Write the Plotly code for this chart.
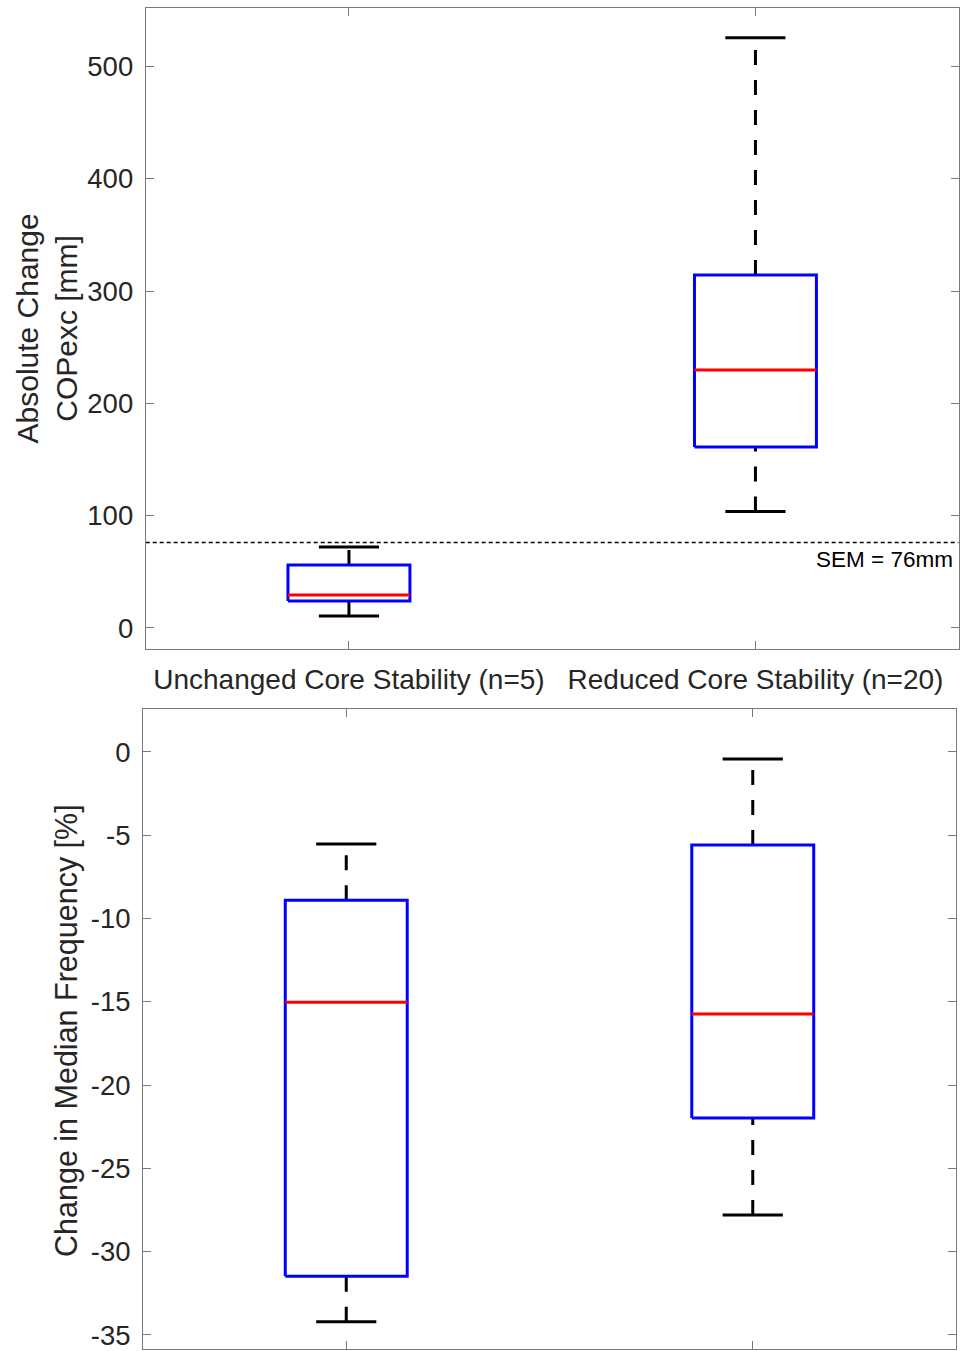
import plotly.graph_objects as go

# ---- data ----
groups = ["Unchanged Core Stability (n=5)", "Reduced Core Stability (n=20)"]
positions = [1, 2]

# top panel: Absolute Change COPexc [mm]
cop_lower = [10.7, 103.6]
cop_q1 = [24.0, 161.2]
cop_median = [29.4, 229.7]
cop_q3 = [56.1, 314.3]
cop_upper = [72.1, 525.6]
sem_value = 76
sem_label = "SEM = 76mm"
cop_ticks = [0, 100, 200, 300, 400, 500]

# bottom panel: Change in Median Frequency [%]
mf_lower = [-34.2, -27.8]
mf_q1 = [-31.47, -21.97]
mf_median = [-15.03, -15.73]
mf_q3 = [-8.9, -5.58]
mf_upper = [-5.52, -0.42]
mf_ticks = [-35, -30, -25, -20, -15, -10, -5, 0]
mf_ticklabels = [str(t) for t in mf_ticks]

# ---- style ----
FONT = "Liberation Sans, Arial, Helvetica, sans-serif"
TXT = "#262626"
AXC = "#7a7a7a"
BOX_HW = 0.15
CAP_HW = 0.074
LW = 3

fig = go.Figure()


def add_boxes(xa, ya, lower, q1, med, q3, upper):
    for c, lo, a, m, b, hi in zip(positions, lower, q1, med, q3, upper):
        # whiskers (dashed), drawn from lower value to higher value
        fig.add_trace(go.Scatter(x=[c, c], y=[b, hi], mode="lines", xaxis=xa, yaxis=ya,
                                 line=dict(color="black", width=LW, dash="15px,15px"),
                                 hoverinfo="skip", showlegend=False))
        fig.add_trace(go.Scatter(x=[c, c], y=[lo, a], mode="lines", xaxis=xa, yaxis=ya,
                                 line=dict(color="black", width=LW, dash="15px,15px"),
                                 hoverinfo="skip", showlegend=False))
        # caps
        for v in (lo, hi):
            fig.add_trace(go.Scatter(x=[c - CAP_HW, c + CAP_HW], y=[v, v], mode="lines",
                                     xaxis=xa, yaxis=ya,
                                     line=dict(color="black", width=LW),
                                     hoverinfo="skip", showlegend=False))
        # box
        fig.add_trace(go.Scatter(x=[c - BOX_HW, c + BOX_HW, c + BOX_HW, c - BOX_HW, c - BOX_HW],
                                 y=[a, a, b, b, a], mode="lines", xaxis=xa, yaxis=ya,
                                 line=dict(color="#0000ff", width=LW),
                                 hoverinfo="skip", showlegend=False))
        # median
        fig.add_trace(go.Scatter(x=[c - BOX_HW, c + BOX_HW], y=[m, m], mode="lines",
                                 xaxis=xa, yaxis=ya,
                                 line=dict(color="#ff0000", width=LW),
                                 hoverinfo="skip", showlegend=False))


add_boxes("x", "y", cop_lower, cop_q1, cop_median, cop_q3, cop_upper)
add_boxes("x2", "y2", mf_lower, mf_q1, mf_median, mf_q3, mf_upper)

# SEM reference line
fig.add_trace(go.Scatter(x=[0.5, 2.5], y=[sem_value, sem_value], mode="lines",
                         xaxis="x", yaxis="y",
                         line=dict(color="black", width=1.5, dash="4px,3px"),
                         hoverinfo="skip", showlegend=False))

W, H = 960, 1351
axis_common = dict(showline=True, linecolor=AXC, linewidth=1, mirror="allticks",
                   ticks="inside", ticklen=8, tickcolor=AXC, tickwidth=1,
                   showgrid=False, zeroline=False)
yfont = dict(family=FONT, size=27.5, color=TXT)
xfont = dict(family=FONT, size=28, color=TXT)

fig.update_layout(
    width=W, height=H, autosize=False,
    margin=dict(l=0, r=0, t=0, b=0),
    paper_bgcolor="white", plot_bgcolor="white",
    showlegend=False,
    font=dict(family=FONT, color=TXT),
    xaxis=dict(domain=[145.7 / W, 958.7 / W], range=[0.5, 2.5],
               tickvals=positions, ticktext=groups, anchor="y",
               tickfont=xfont, ticklabelstandoff=5, **axis_common),
    yaxis=dict(domain=[1 - 649.3 / H, 1 - 8.3 / H], range=[-19.0, 551.8],
               tickvals=cop_ticks, anchor="x", tickfont=yfont,
               ticklabelstandoff=6, **axis_common),
    xaxis2=dict(domain=[143.0 / W, 956.0 / W], range=[0.5, 2.5],
                tickvals=positions, showticklabels=False, anchor="y2",
                tickfont=xfont, **axis_common),
    yaxis2=dict(domain=[1 - 1349.3 / H, 1 - 709.0 / H], range=[-35.86, 2.58],
                tickvals=mf_ticks, ticktext=mf_ticklabels, anchor="x2",
                tickfont=yfont, ticklabelstandoff=6, **axis_common),
)

# y-axis titles
fig.add_annotation(xref="paper", yref="paper", x=46.5 / W, y=1 - 329 / H,
                   text="Absolute Change<br>COPexc [mm]", textangle=-90,
                   showarrow=False, xanchor="center", yanchor="middle",
                   font=dict(family=FONT, size=30, color=TXT))
fig.add_annotation(xref="paper", yref="paper", x=66 / W, y=1 - 1031 / H,
                   text="Change in Median Frequency [%]", textangle=-90,
                   showarrow=False, xanchor="center", yanchor="middle",
                   font=dict(family=FONT, size=30.5, color=TXT))

# SEM label
fig.add_annotation(xref="x", yref="y", x=2.5, y=sem_value, text=sem_label,
                   showarrow=False, xanchor="right", yanchor="top",
                   xshift=-4, yshift=-2,
                   font=dict(family=FONT, size=22.5, color="black"))

fig.write_html("out.html",
               config={"displayModeBar": False},
               post_script="document.body.style.margin='0px';document.body.style.overflow='hidden';")
